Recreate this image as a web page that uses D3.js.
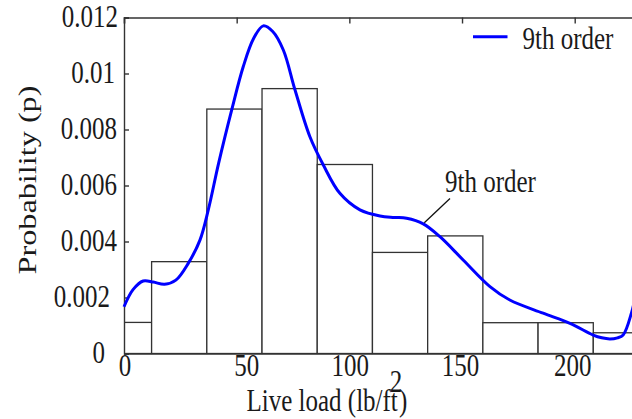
<!DOCTYPE html>
<html><head><meta charset="utf-8">
<script src="https://cdn.jsdelivr.net/npm/d3@7"></script>
<style>
html,body{margin:0;padding:0;background:#fff;}
svg{display:block;}
text{font-family:"Liberation Serif","Times New Roman",serif;fill:#1a1a1a;}
</style></head>
<body>
<script>
// ---- data ----
const binCenters = [0, 24.5, 49, 73.5, 98, 122.5, 147, 171.5, 196, 220.5];
const binWidth = 24.5;
const binProb = [0.00111, 0.00328, 0.00873, 0.00946, 0.00675, 0.00361, 0.0042, 0.0011, 0.0011, 0.00074];
const fitX = [0, 4, 8.5, 13, 18, 23, 28.5, 33.7, 37.4, 42, 47.8, 52.9, 57.5, 61.8, 66, 70.7, 75.9, 82.5, 88.4, 95.8, 104.7, 113.6, 120, 125.4, 132.8, 140.2, 150.5, 162.4, 171.2, 186, 197.9, 208.2, 212, 215.6, 219, 221.5, 225.2, 228];
const fitY = [0.00167, 0.00228, 0.00259, 0.00255, 0.00247, 0.00262, 0.00322, 0.00405, 0.00513, 0.00680, 0.00870, 0.01024, 0.01125, 0.01170, 0.01150, 0.01084, 0.00941, 0.00774, 0.00674, 0.00572, 0.00513, 0.00491, 0.00486, 0.00483, 0.00463, 0.00417, 0.00334, 0.00239, 0.00191, 0.00144, 0.00108, 0.00066, 0.00056, 0.00052, 0.00056, 0.00066, 0.00145, 0.0025];
const xTicks = [0, 50, 100, 150, 200];
const xTickLabels = ["0", "50", "100", "150", "200"];
const yTicks = [0, 0.002, 0.004, 0.006, 0.008, 0.01, 0.012];
const yTickLabels = ["0", "0.002", "0.004", "0.006", "0.008", "0.01", "0.012"];
const seriesName = "9th order";

// ---- layout ----
const W = 632, H = 419;
const mLeft = 124, mTop = 17.5, mBottom = 353.5;
const x = d3.scaleLinear().domain([0, 250]).range([mLeft, mLeft + 250 * 2.2535]);
const y = d3.scaleLinear().domain([0, 0.012]).range([mBottom, mTop]);
const FS = 25, SY = 1.29;
const ink = "#333";

const svg = d3.select("body").append("svg").attr("width", W).attr("height", H);

svg.append("defs").append("clipPath").attr("id", "plotclip")
  .append("rect").attr("x", mLeft).attr("y", 0).attr("width", W - mLeft).attr("height", mBottom + 1);

function stext(g, str, px, py, anchor) {
  return g.append("text")
    .attr("transform", `translate(${px},${py}) scale(1,${SY})`)
    .attr("text-anchor", anchor || "start")
    .attr("font-size", FS)
    .text(str);
}

// bars
const plot = svg.append("g").attr("clip-path", "url(#plotclip)");
plot.selectAll("rect.bar").data(binCenters).join("rect")
  .attr("class", "bar")
  .attr("x", d => x(d - binWidth / 2))
  .attr("width", d => x(d + binWidth / 2) - x(d - binWidth / 2))
  .attr("y", (d, i) => y(binProb[i]))
  .attr("height", (d, i) => y(0) - y(binProb[i]))
  .attr("fill", "#fff").attr("stroke", ink).attr("stroke-width", 1.3);

// axes frame
const axisG = svg.append("g");
const xTop = d3.axisTop(x).tickValues(xTicks).tickSize(-6).tickFormat("");
axisG.append("g").attr("transform", `translate(0,${mTop})`).call(xTop)
  .call(g => g.selectAll("path,line").attr("stroke", ink).attr("stroke-width", 1.4));
const xBot = d3.axisBottom(x).tickValues([]).tickSize(0);
axisG.append("g").attr("transform", `translate(0,${mBottom})`).call(xBot)
  .call(g => g.select("path").attr("stroke", ink).attr("stroke-width", 1.4));
const yL = d3.axisLeft(y).tickValues(yTicks).tickSize(-5).tickFormat("");
axisG.append("g").attr("transform", `translate(${mLeft},0)`).call(yL)
  .call(g => g.selectAll("path,line").attr("stroke", ink).attr("stroke-width", 1.4));

// fit curve
const line = d3.line().x(d => x(d[0])).y(d => y(d[1])).curve(d3.curveCatmullRom.alpha(0.5));
svg.append("path").datum(fitX.map((v, i) => [v, fitY[i]]))
  .attr("d", line).attr("fill", "none").attr("stroke", "#0000ff").attr("stroke-width", 3);

// x tick labels
const xdx = [1, 10, 1, -1.5, -2];
xTicks.forEach((v, i) => stext(svg, xTickLabels[i], x(v) + xdx[i], 376, "middle"));
// y tick labels
const yRight = [105, 110, 117, 117, 117, 115, 118];
yTicks.forEach((v, i) => stext(svg, yTickLabels[i], yRight[i], y(v) + 9, "end"));

// axis titles
stext(svg, "Live load (lb/ft", 246.5, 411, "start");
stext(svg, ")", 399, 411, "start");
stext(svg, "2", 396, 392, "middle");
svg.append("text")
  .attr("transform", `translate(36,180) rotate(-90) scale(${SY},1)`)
  .attr("text-anchor", "middle").attr("font-size", FS)
  .text("Probability (p)");

// legend
svg.append("line").attr("x1", 473).attr("x2", 507.5).attr("y1", 36.7).attr("y2", 36.7)
  .attr("stroke", "#0000ff").attr("stroke-width", 3);
stext(svg, seriesName, 522.5, 49, "start");

// annotation
svg.append("line").attr("x1", 450).attr("y1", 198.5).attr("x2", 424.3).attr("y2", 222.7)
  .attr("stroke", "#111").attr("stroke-width", 1.3);
stext(svg, seriesName, 445, 191.5, "start");
</script>
</body></html>
